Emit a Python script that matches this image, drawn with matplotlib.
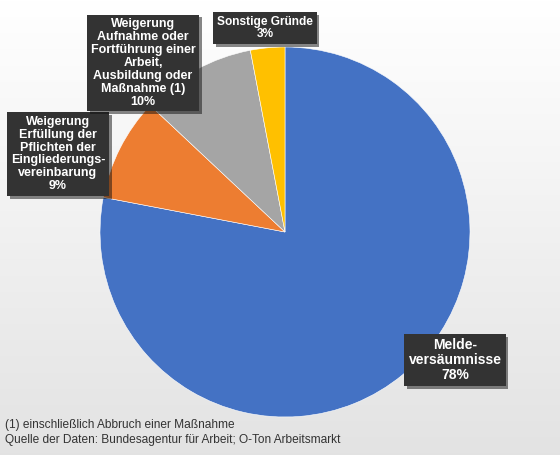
import numpy as np
import matplotlib.pyplot as plt
import matplotlib.patheffects as pe

plt.rcParams['font.family'] = ['Liberation Sans', 'DejaVu Sans']

# Sanktionsgründe, Anteile in Prozent
labels = ['Melde-\nversäumnisse',
          'Weigerung\nErfüllung der\nPflichten der\nEingliederungs-\nvereinbarung',
          'Weigerung\nAufnahme oder\nFortführung einer\nArbeit,\nAusbildung oder\nMaßnahme (1)',
          'Sonstige Gründe']
shares = [78, 9, 10, 3]
colors = ['#4472C4', '#ED7D31', '#A5A5A5', '#FFC000']
# Lage (Pixel vom linken/oberen Rand) und Schriftgröße der Beschriftungskästen
label_pos = [(455, 360), (58, 154), (143, 63), (265, 28)]
label_size = [10, 9, 9, 8.6]

W, H = 560, 455
fig = plt.figure(figsize=(W / 100, H / 100), dpi=100)

# heller Verlauf im Hintergrund
bg = fig.add_axes([0, 0, 1, 1])
grad = np.linspace(1.0, 0.89, 256).reshape(-1, 1)
bg.imshow(np.dstack([grad, grad, grad]), aspect='auto', extent=[0, 1, 0, 1])
bg.axis('off')

ax = fig.add_axes([100 / W, (H - 417) / H, 370 / W, 370 / H])
ax.pie(shares, colors=colors, startangle=90, counterclock=False,
       wedgeprops=dict(edgecolor='white', linewidth=0.4))
ax.set_xlim(-1, 1)
ax.set_ylim(-1, 1)
ax.set_aspect('equal')
ax.axis('off')

shadow = [pe.SimplePatchShadow(offset=(2, -2), alpha=0.5), pe.Normal()]
for lab, val, (px, py), fs in zip(labels, shares, label_pos, label_size):
    fig.text(px / W, 1 - py / H, f'{lab}\n{val}%', ha='center', va='center',
             color='white', fontsize=fs, fontweight='bold', linespacing=1.1,
             bbox=dict(boxstyle='square,pad=0.3', fc='#333333', ec='none',
                       path_effects=shadow))

fig.text(5 / W, 1 - 425 / H, '(1) einschließlich Abbruch einer Maßnahme',
         ha='left', va='center', fontsize=8.6, color='#333333')
fig.text(5 / W, 1 - 440 / H,
         'Quelle der Daten: Bundesagentur für Arbeit; O-Ton Arbeitsmarkt',
         ha='left', va='center', fontsize=8.6, color='#333333')

fig.savefig('out.png', dpi=100)
